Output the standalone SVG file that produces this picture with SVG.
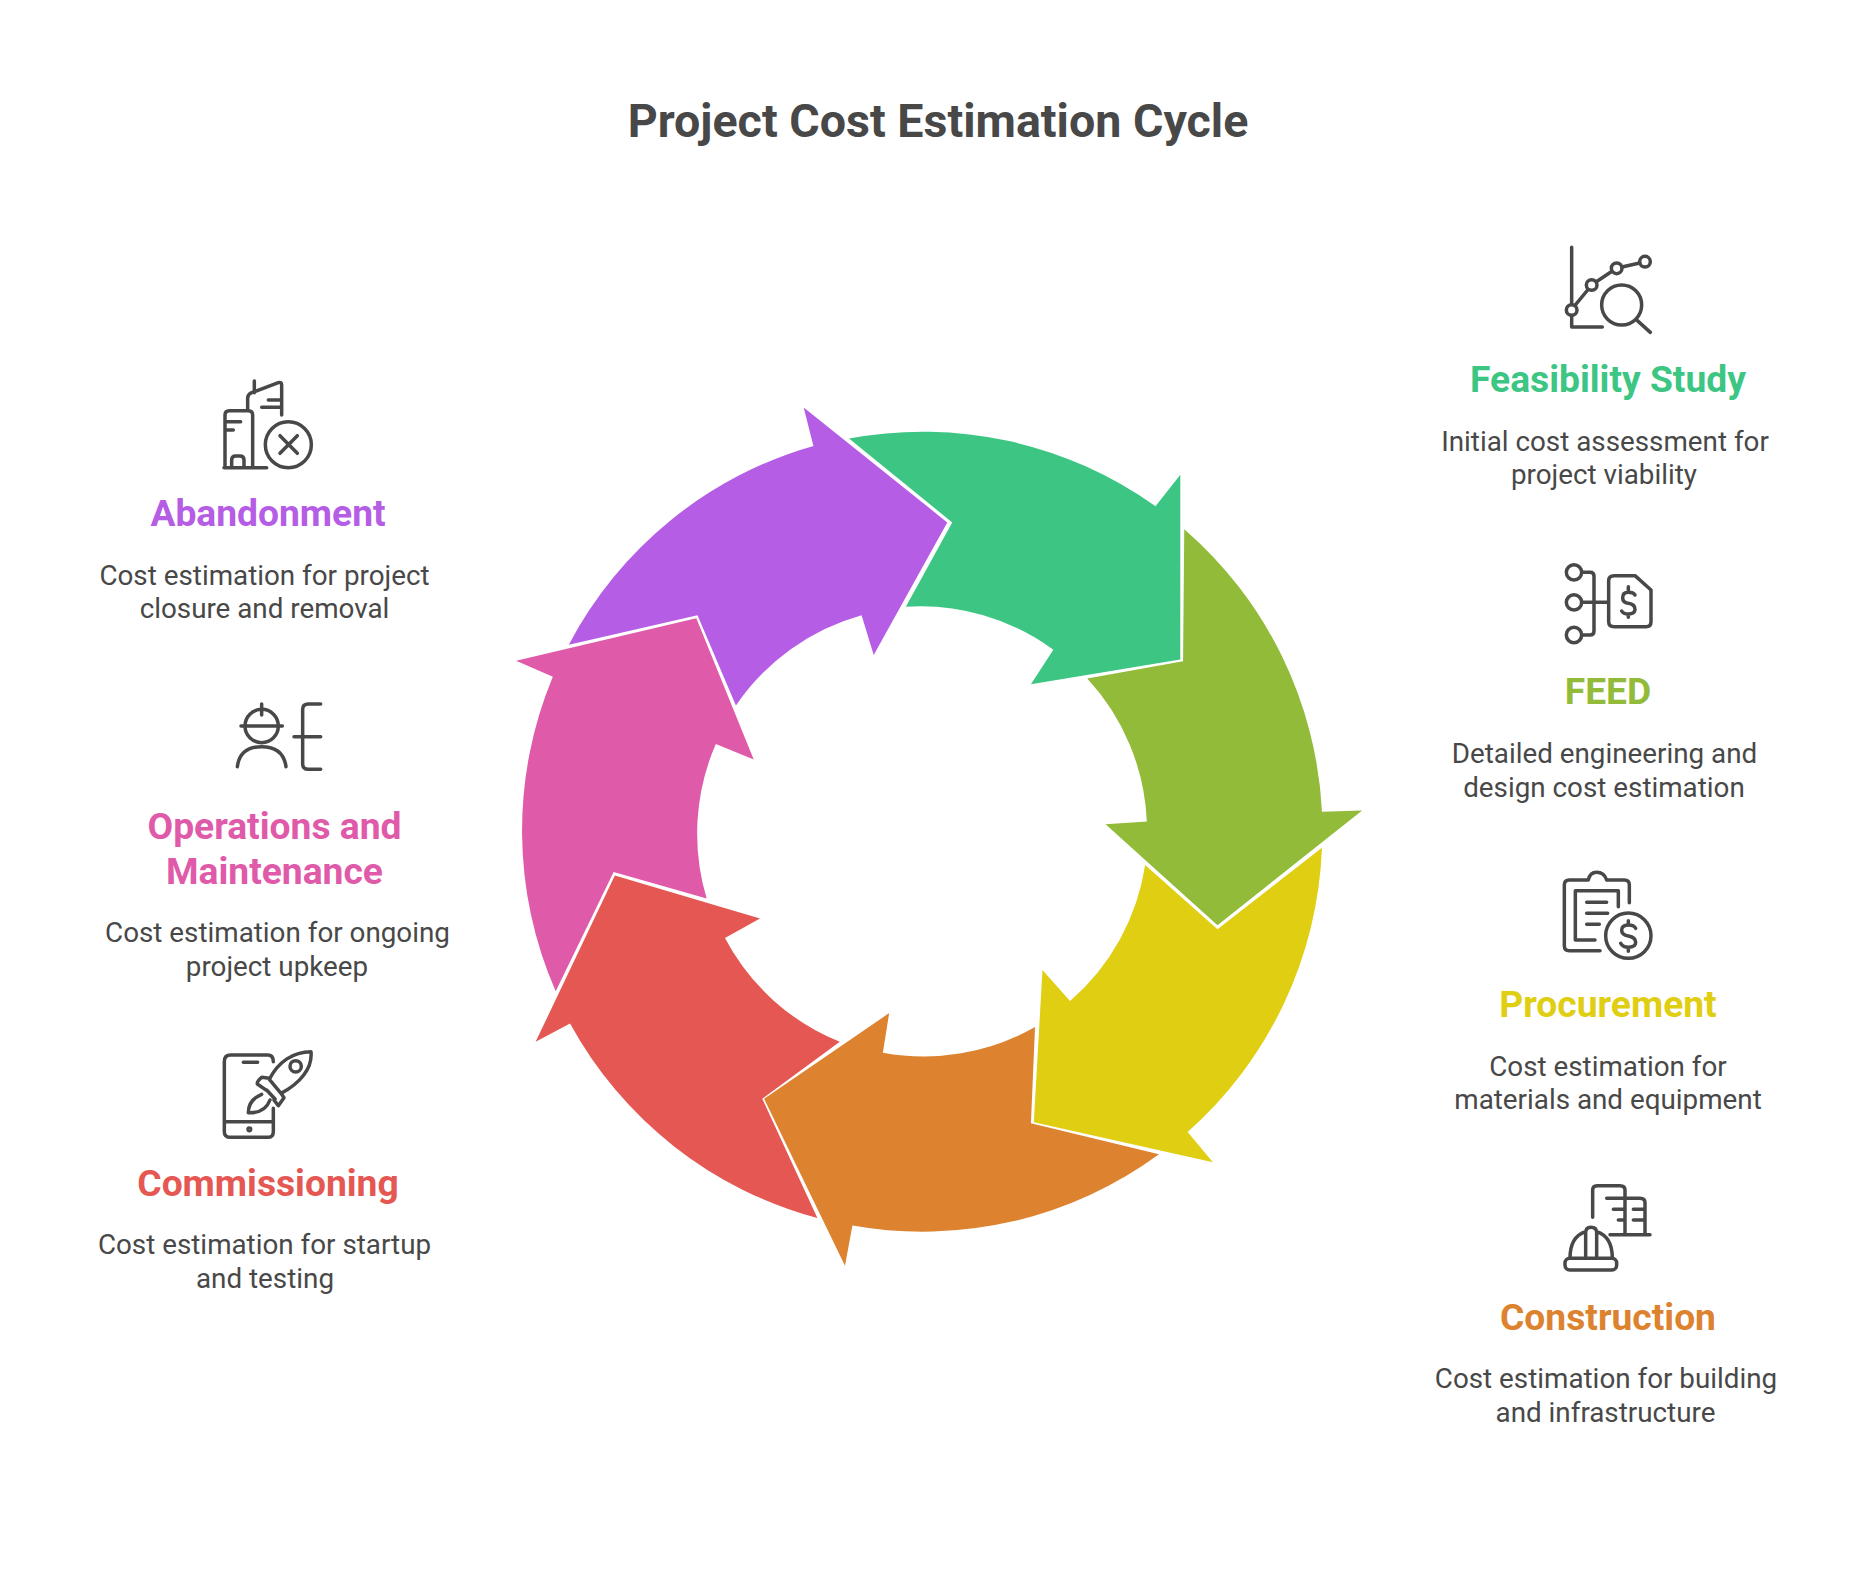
<svg xmlns="http://www.w3.org/2000/svg" width="1876" height="1588" viewBox="0 0 1876 1588">
<style>
text{font-family:Roboto,"Liberation Sans",sans-serif;text-anchor:middle}
.title{font-size:46.6px;font-weight:700;fill:#484848}
.h{font-size:37.2px;font-weight:700}
.d{font-size:27.8px;fill:#484848}
.i{fill:none;stroke:#484848;stroke-width:10.5;stroke-linecap:round;stroke-linejoin:round}
</style>
<rect width="1876" height="1588" fill="#fff"/>
<text class="title" x="938" y="137">Project Cost Estimation Cycle</text>
<g id="connectors" transform="translate(500 380) scale(.995) translate(-500 -380)">
<path id="arrow-feasibility" fill="#3CC583" d="M850.8 438.8A402 402 0 0 1 1158.8 506.9L1183.7 475.2V661L1033.6 685.8L1056.1 651.1A226 226 0 0 0 907.9 607.9L954.5 523.1Z"/>
<path id="arrow-feed" fill="#93BB3A" d="M1187.7 530A402 402 0 0 1 1326.1 813.8L1366.5 812.7L1221.1 928L1108.6 826.5L1150.1 823.6A226 226 0 0 0 1090.2 680L1186.5 662.7Z"/>
<path id="arrow-procurement" fill="#DFCE12" d="M1326.1 850.2A402 402 0 0 1 1191.1 1135.7L1216.5 1166.3L1036.5 1126L1045.2 973L1072.9 1004.2A226 226 0 0 0 1148.4 867.5L1221.1 932Z"/>
<path id="arrow-construction" fill="#DD832F" d="M1162.3 1158.2A402 402 0 0 1 854.2 1229.8L846.7 1270.2L765.4 1102.3L891.1 1016.3L884.8 1056.1A226 226 0 0 0 1037.7 1030.2L1033.6 1127Z"/>
<path id="arrow-commissioning" fill="#E55753" d="M819 1222.3A402 402 0 0 1 570.4 1026.7L535.8 1045.2L615.4 877.9L761.3 921.2L726.1 940.8A226 226 0 0 0 841.5 1045.2L763.6 1102.3Z"/>
<path id="arrow-operations" fill="#DF5AA8" d="M556 994.4A402 402 0 0 1 553.1 678.3L516.2 662.1L697.3 619.4L755 761.3L716.9 745.8A226 226 0 0 0 707.7 901L614.2 874.4Z"/>
<path id="arrow-abandonment" fill="#B55DE4" d="M569.2 646A402 402 0 0 1 815 446.3L805.2 407.7L949.5 523.1L875.6 656.3L863.4 616.5A226 226 0 0 0 737.1 707.1L698.5 616.5Z"/>
</g>
<g id="node-feasibility">
<g class="i" transform="translate(1420 230) scale(.33333)">
<path d="M455 52V220M455 258V291H547M465 226L503 180M529 155L576 124M606 111L659 99M648 268L691 307"/>
<circle cx="455" cy="240" r="16"/><circle cx="515" cy="165" r="16"/><circle cx="590" cy="115" r="16"/><circle cx="675" cy="95" r="16"/><circle cx="605" cy="225" r="60"/>
</g>
<text class="h" x="1608" y="392" fill="#3CC583">Feasibility Study</text>
<text class="d" x="1605" y="450.5">Initial cost assessment for</text>
<text class="d" x="1604" y="484">project viability</text>
</g>
<g id="node-feed">
<g class="i" transform="translate(1420 230) scale(.33333)">
<circle cx="462" cy="1027" r="23"/><circle cx="462" cy="1117" r="23"/><circle cx="462" cy="1215" r="23"/>
<path d="M485 1027H510Q522 1027 522 1039V1203Q522 1215 510 1215H485M485 1117H565"/>
<path d="M583 1037H645L693 1080V1175Q693 1190 678 1190H583Q566 1190 566 1175V1052Q566 1037 583 1037Z"/>
<path d="M645 1095Q640 1087 625 1087Q608 1087 608 1103Q608 1117 625 1120Q645 1123 645 1138Q645 1152 625 1152Q610 1152 605 1143M625 1070V1087M625 1152V1162"/>
</g>
<text class="h" x="1608" y="704" fill="#93BB3A">FEED</text>
<text class="d" x="1604.5" y="763">Detailed engineering and</text>
<text class="d" x="1604" y="797">design cost estimation</text>
</g>
<g id="node-procurement">
<g class="i" transform="translate(1420 860) scale(.33333)">
<path d="M540 272H448Q433 272 433 257V75Q433 60 448 60H505Q510 37 530 37Q552 37 560 60H613Q628 60 628 75V128"/>
<path d="M525 240H466V92H595V140M500 127H560M500 160H563M500 193H538"/>
<circle cx="625" cy="227" r="68"/>
<path d="M647 205Q642 195 625 195Q605 195 605 211Q605 225 625 228Q647 232 647 247Q647 262 625 262Q608 262 602 250M625 182V195M625 262V274"/>
</g>
<text class="h" x="1608" y="1017" fill="#DFCE12">Procurement</text>
<text class="d" x="1608" y="1076">Cost estimation for</text>
<text class="d" x="1608" y="1109">materials and equipment</text>
</g>
<g id="node-construction">
<g class="i" transform="translate(1420 860) scale(.33333)">
<path d="M518 1072V990Q518 977 531 977H600Q615 977 615 990V1122M560 1015H660Q675 1015 675 1028V1122M570 1124H690M580 1048H612M595 1080H612M640 1048H672M640 1080H672"/>
<path d="M450 1195Q450 1130 497 1115M577 1195Q577 1130 530 1115M497 1190V1118Q497 1102 513 1102Q530 1102 530 1118V1190"/>
<rect x="435" y="1195" width="155" height="35" rx="14"/>
</g>
<text class="h" x="1608" y="1329.5" fill="#DD832F">Construction</text>
<text class="d" x="1606" y="1388">Cost estimation for building</text>
<text class="d" x="1605.5" y="1422">and infrastructure</text>
</g>
<g id="node-abandonment">
<g class="i" transform="translate(80 370) scale(.33333)">
<path d="M432 293H560M435 293V135Q435 122 448 122H505Q518 122 518 135V293M435 155H482M437 180H460M455 293V270Q455 258 467 258H480Q492 258 492 270V293"/>
<path d="M503 120V85Q503 73 515 68L595 38Q605 35 605 45V135M523 33V68M565 90H600M545 112H600"/>
<circle cx="625" cy="224" r="69"/>
<path d="M600 197L652 250M652 197L600 250"/>
</g>
<text class="h" x="268" y="526" fill="#B55DE4">Abandonment</text>
<text class="d" x="264.5" y="584.5">Cost estimation for project</text>
<text class="d" x="264.5" y="618">closure and removal</text>
</g>
<g id="node-operations">
<g class="i" transform="translate(80 370) scale(.33333)">
<circle cx="545" cy="1068" r="50"/>
<path d="M483 1068H607M545 1002V1035M472 1190Q480 1130 545 1130Q610 1130 618 1190M722 1002H685Q668 1002 668 1018V1182Q668 1198 685 1198H722M642 1100H722"/>
</g>
<text class="h" x="274.5" y="838.5" fill="#DF5AA8">Operations and</text>
<text class="h" x="274.5" y="883.5" fill="#DF5AA8">Maintenance</text>
<text class="d" x="277.5" y="942">Cost estimation for ongoing</text>
<text class="d" x="277" y="976">project upkeep</text>
</g>
<g id="node-commissioning">
<g class="i" transform="translate(80 800) scale(.33333)">
<path d="M580 925V995Q580 1012 563 1012H452Q433 1012 433 995V785Q433 765 452 765H563Q580 765 580 785M490 787H533M435 965H580"/>
<circle cx="508" cy="988" r="4"/>
<path d="M568 838C595 785 640 755 693 755C698 805 660 850 603 880ZM568 835L545 832Q530 845 532 852L565 875M560 870L585 897M603 880L612 893L595 917L582 900M545 883Q505 900 505 938Q555 940 570 900"/>
<circle cx="647" cy="799" r="17"/>
</g>
<text class="h" x="268" y="1196" fill="#E55753">Commissioning</text>
<text class="d" x="264.5" y="1254">Cost estimation for startup</text>
<text class="d" x="265" y="1288">and testing</text>
</g>
</svg>
